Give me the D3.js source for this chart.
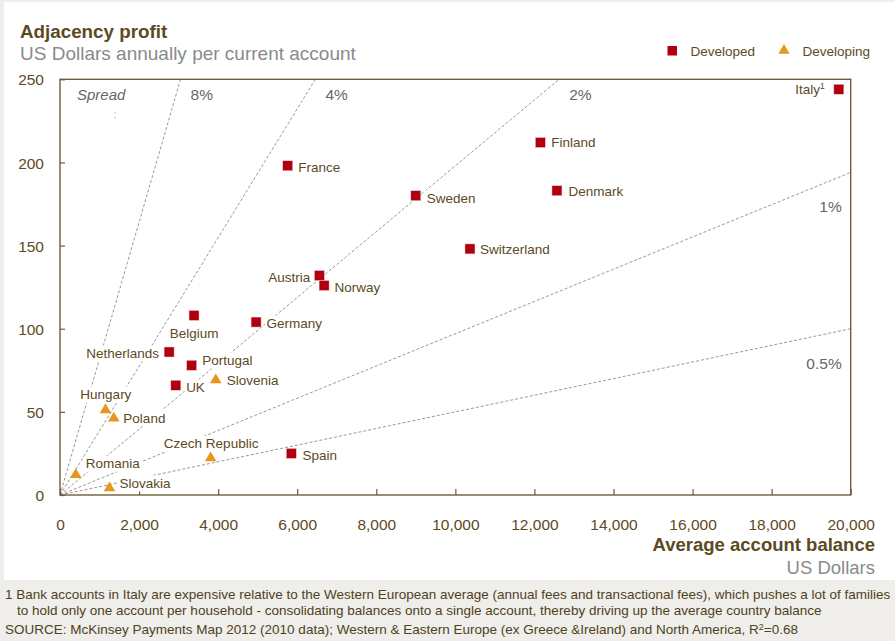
<!DOCTYPE html>
<html>
<head>
<meta charset="utf-8">
<script src="https://cdn.jsdelivr.net/npm/d3@7"></script>
<style>
  html, body { margin: 0; padding: 0; background: #efeeea; }
  svg { display: block; font-family: "Liberation Sans", Arial, sans-serif; }
</style>
</head>
<body>
<svg id="chart" width="895" height="641"></svg>
<script>
// ---------- data ----------
const developedNames = ["Italy", "Finland", "Denmark", "Switzerland", "Sweden", "France", "Austria", "Norway", "Germany", "Belgium", "Netherlands", "Portugal", "UK", "Spain"];
const developedBalance = [19700, 12150, 12570, 10370, 9000, 5760, 6560, 6680, 4960, 3390, 2760, 3330, 2930, 5850];
const developedProfit = [244, 212, 183, 148, 180, 198, 132, 126, 104, 108, 86, 78, 66, 25];

const developingNames = ["Slovenia", "Hungary", "Poland", "Czech Republic", "Romania", "Slovakia"];
const developingBalance = [3940, 1150, 1360, 3810, 400, 1250];
const developingProfit = [70, 52, 47, 23, 13, 5];

const spreadLabels = ["8%", "4%", "2%", "1%", "0.5%"];
const spreadRates = [0.082, 0.0387, 0.0198, 0.0097, 0.005]; // slopes as drawn in the picture

const xTicks = [0, 2000, 4000, 6000, 8000, 10000, 12000, 14000, 16000, 18000, 20000];
const yTicks = [0, 50, 100, 150, 200, 250];

const legendNames = ["Developed", "Developing"];

// label placement (anchor, dx, dy from marker centre)
const labelPlacement = {
  "Italy": ["end", -14, 0], "Finland": ["start", 11, 0], "Denmark": ["start", 11.5, 0],
  "Switzerland": ["start", 10, 0], "Sweden": ["start", 11, 2], "France": ["start", 10.5, 1.6],
  "Austria": ["end", -9, 1.3], "Norway": ["start", 10.5, 1.3], "Germany": ["start", 10.5, 1.3],
  "Belgium": ["middle", 0, 17.6], "Netherlands": ["end", -10, 1], "Portugal": ["start", 10.5, -5],
  "UK": ["start", 10.3, 2], "Spain": ["start", 11.3, 1.7], "Slovenia": ["start", 11, 1.4],
  "Hungary": ["middle", 0.4, -14], "Poland": ["start", 9.6, 1], "Czech Republic": ["middle", 0.5, -13.3],
  "Romania": ["start", 10, -10], "Slovakia": ["start", 10, -3.7]
};

// ---------- styles ----------
const C = {
  brown: "#5c4a22", axis: "#6e5d3a", grey: "#8a8a8a", pct: "#666666",
  red: "#b0000f", orange: "#e8951e", dash: "#8c8c8c"
};

const svg = d3.select("#chart");
const W = 895, H = 641;
const plot = { left: 60, right: 850.7, top: 79.3, bottom: 495 };

// backgrounds
svg.append("rect").attr("x", 0).attr("y", 0).attr("width", W).attr("height", H).attr("fill", "#efeeea");
svg.append("rect").attr("x", 4).attr("y", 2).attr("width", W - 4).attr("height", 578).attr("fill", "#ffffff");

const x = d3.scaleLinear().domain([0, 20000]).range([plot.left, plot.right]);
const y = d3.scaleLinear().domain([0, 250]).range([plot.bottom, plot.top]);

// title
svg.append("text").attr("x", 20).attr("y", 37.5).attr("fill", C.brown)
  .style("font-size", "18.8px").style("font-weight", "bold").text("Adjacency profit");
svg.append("text").attr("x", 20).attr("y", 59.5).attr("fill", C.grey)
  .style("font-size", "19px").text("US Dollars annually per current account");

// legend
const lg = svg.append("g");
lg.append("rect").attr("x", 667.5).attr("y", 46).attr("width", 9.5).attr("height", 9.5).attr("fill", C.red);
lg.append("text").attr("x", 690.5).attr("y", 56).attr("fill", C.brown).style("font-size", "13.5px").text(legendNames[0]);
lg.append("path").attr("d", d3.symbol(d3.symbolTriangle, 55)()).attr("transform", "translate(784,50.5)").attr("fill", C.orange);
lg.append("text").attr("x", 802.5).attr("y", 56).attr("fill", C.brown).style("font-size", "13.5px").text(legendNames[1]);

// clip
svg.append("clipPath").attr("id", "clip").append("rect")
  .attr("x", plot.left).attr("y", plot.top).attr("width", plot.right - plot.left).attr("height", plot.bottom - plot.top);

// spread lines
const lines = svg.append("g").attr("clip-path", "url(#clip)");
spreadRates.forEach(r => {
  const xEnd = Math.min(20000, 250 / r);
  lines.append("line")
    .attr("x1", x(0)).attr("y1", y(0))
    .attr("x2", x(xEnd)).attr("y2", y(xEnd * r))
    .attr("stroke", C.dash).attr("stroke-width", 0.9).attr("stroke-dasharray", "3,2");
});
// small dotted remnant under "Spread"
svg.append("line").attr("x1", 115).attr("y1", 112.5).attr("x2", 115).attr("y2", 119.5)
  .attr("stroke", C.dash).attr("stroke-width", 0.9).attr("stroke-dasharray", "1.2,3.5");

// spread labels
svg.append("text").attr("x", 77).attr("y", 99.5).attr("fill", C.pct)
  .style("font-size", "15px").style("font-style", "italic").text("Spread");
spreadRates.forEach((r, i) => {
  const reachesTop = 250 / r <= 20000;
  const t = svg.append("text").attr("fill", C.pct).style("font-size", "15.5px").text(spreadLabels[i]);
  if (reachesTop) {
    t.attr("x", x(250 / r) + 10).attr("y", plot.top + 20.5).attr("text-anchor", "start");
  } else {
    t.attr("x", plot.right - 9).attr("y", y(20000 * r) + 40).attr("text-anchor", "end");
  }
});

// axes
const yAxis = d3.axisLeft(y).tickValues(yTicks).tickSize(-5).tickPadding(16).tickFormat(d3.format("d"));
const gy = svg.append("g").attr("transform", `translate(${plot.left},0)`).call(yAxis);
const xAxis = d3.axisBottom(x).tickValues(xTicks).tickSize(-6).tickPadding(24).tickFormat(d3.format(","));
const gx = svg.append("g").attr("transform", `translate(0,${plot.bottom})`).call(xAxis);
[gx, gy].forEach(g => {
  g.select(".domain").remove();
  g.selectAll(".tick line").attr("stroke", C.axis).attr("stroke-width", 1.2);
  g.selectAll(".tick text").attr("fill", C.brown).style("font-size", "15.5px").style("font-family", "'Liberation Sans', Arial, sans-serif");
});
gy.selectAll(".tick text").attr("x", -16).attr("dy", "0.36em");
gx.selectAll(".tick text").attr("dy", "0.71em");

// frame
svg.append("rect").attr("x", plot.left).attr("y", plot.top)
  .attr("width", plot.right - plot.left).attr("height", plot.bottom - plot.top)
  .attr("fill", "none").attr("stroke", C.axis).attr("stroke-width", 1.4);

// axis titles
svg.append("text").attr("x", 875).attr("y", 551).attr("text-anchor", "end").attr("fill", C.brown)
  .style("font-size", "18.5px").style("font-weight", "bold").text("Average account balance");
svg.append("text").attr("x", 875).attr("y", 573.5).attr("text-anchor", "end").attr("fill", C.grey)
  .style("font-size", "18.5px").text("US Dollars");

// points
const pts = [];
developedNames.forEach((n, i) => pts.push({ name: n, bx: developedBalance[i], py: developedProfit[i], type: 0 }));
developingNames.forEach((n, i) => pts.push({ name: n, bx: developingBalance[i], py: developingProfit[i], type: 1 }));

const labelFS = 13.5;
const labelG = svg.append("g");
const bgG = labelG.append("g");
const txtG = labelG.append("g");
pts.forEach(p => {
  const [anchor, dx, dy] = labelPlacement[p.name];
  const t = txtG.append("text")
    .attr("x", x(p.bx) + dx).attr("y", y(p.py) + dy + labelFS * 0.36)
    .attr("text-anchor", anchor).attr("fill", C.brown).style("font-size", labelFS + "px");
  if (p.name === "Italy") {
    t.append("tspan").text("Italy");
    t.append("tspan").attr("dy", -5).style("font-size", "8.5px").text("1");
  } else {
    t.text(p.name);
  }
  const bb = t.node().getBBox();
  bgG.append("rect").attr("x", bb.x - 1.5).attr("y", bb.y - 0.5)
    .attr("width", bb.width + 3).attr("height", bb.height + 1).attr("fill", "#ffffff");
});

const markG = svg.append("g");
pts.forEach(p => {
  if (p.type === 0) {
    markG.append("rect").attr("x", x(p.bx) - 5).attr("y", y(p.py) - 5)
      .attr("width", 10).attr("height", 10).attr("fill", C.red)
      .attr("stroke", "#f3c9cc").attr("stroke-width", 0.5);
  } else {
    markG.append("path").attr("d", "M0,-5.2L5.8,4.6L-5.8,4.6Z")
      .attr("transform", `translate(${x(p.bx)},${y(p.py)})`).attr("fill", C.orange);
  }
});

// footnotes
const fn = svg.append("g").attr("fill", "#4e4222").style("font-size", "13.5px");
fn.append("text").attr("x", 5).attr("y", 599)
  .text("1 Bank accounts in Italy are expensive relative to the Western European average (annual fees and transactional fees), which pushes a lot of families");
fn.append("text").attr("x", 17).attr("y", 614.5)
  .text("to hold only one account per household - consolidating balances onto a single account, thereby driving up the average country balance");
const src = fn.append("text").attr("x", 5).attr("y", 634)
  .text("SOURCE: McKinsey Payments Map 2012 (2010 data); Western & Eastern Europe (ex Greece &Ireland) and North America, R");
src.append("tspan").attr("dy", -4).style("font-size", "9px").text("2");
src.append("tspan").attr("dy", 4).text("=0.68");
</script>
</body>
</html>
